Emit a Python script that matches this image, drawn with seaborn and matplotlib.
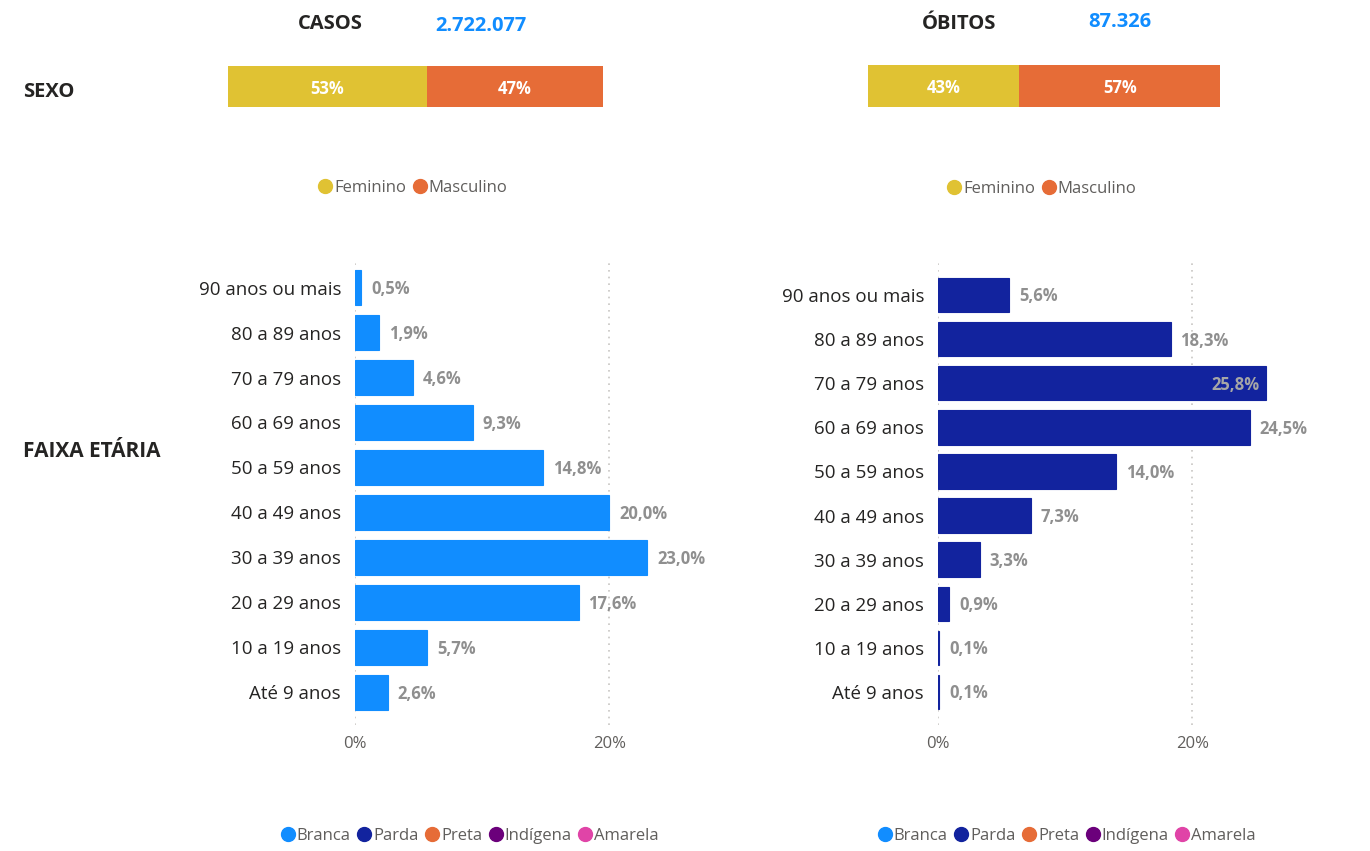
import matplotlib
matplotlib.use("Agg")
import matplotlib.pyplot as plt
from matplotlib.lines import Line2D
import seaborn as sns

# data
faixas = ['90 anos ou mais', '80 a 89 anos', '70 a 79 anos', '60 a 69 anos',
          '50 a 59 anos', '40 a 49 anos', '30 a 39 anos', '20 a 29 anos',
          '10 a 19 anos', 'Até 9 anos']
casos_pct = [0.5, 1.9, 4.6, 9.3, 14.8, 20.0, 23.0, 17.6, 5.7, 2.6]
obitos_pct = [5.6, 18.3, 25.8, 24.5, 14.0, 7.3, 3.3, 0.9, 0.1, 0.1]

sexos = ['Feminino', 'Masculino']
casos_sexo = [53, 47]
obitos_sexo = [43, 57]

total_casos = '2.722.077'
total_obitos = '87.326'

racas = ['Branca', 'Parda', 'Preta', 'Indígena', 'Amarela']
cores_raca = ['#118DFF', '#12239E', '#E66C37', '#6B007B', '#E044A7']
cores_sexo = ['#E0C233', '#E66C37']

sns.set_style("white")
plt.rcParams['font.family'] = ['Open Sans', 'DejaVu Sans']

W, H = 1370, 851
fig = plt.figure(figsize=(W / 100, H / 100), dpi=100)


def box(x0, y0, x1, y1):
    # pixel box (top-left origin) -> figure fraction
    return [x0 / W, 1 - y1 / H, (x1 - x0) / W, (y1 - y0) / H]


def pct(v):
    return f"{v:.1f}".replace('.', ',') + '%'


def sexo_bar(rect, values):
    ax = fig.add_axes(rect)
    left = 0
    for v, c in zip(values, cores_sexo):
        ax.barh([0], [v], left=left, color=c, height=1.0, linewidth=0)
        ax.text(left + v / 2, 0, f"{v}%", ha='center', va='center_baseline',
                color='white', fontsize=12, fontweight='bold')
        left += v
    ax.set_xlim(0, sum(values))
    ax.set_ylim(-0.5, 0.5)
    ax.axis('off')


def faixa_bar(rect, values, color, ylim):
    ax = fig.add_axes(rect)
    for g in (0, 20):
        ax.axvline(g, color='#C8C6C4', linestyle=(0, (1, 3)), lw=1.2, zorder=0)
    sns.barplot(x=values, y=faixas, orient='h', color=color, width=0.78,
                saturation=1, ax=ax, zorder=2, linewidth=0.8, edgecolor=color)
    ax.set_xlim(0, 28)
    ax.set_ylim(*ylim)
    ax.set_xticks([0, 20])
    ax.set_xticklabels(['0%', '20%'], color='#605E5C', fontsize=12)
    ax.tick_params(axis='y', labelsize=13.5, labelcolor='#252423', length=0, pad=10)
    ax.tick_params(axis='x', length=0, pad=8)
    ax.set_xlabel('')
    ax.set_ylabel('')
    for s in ax.spines.values():
        s.set_visible(False)
    for i, v in enumerate(values):
        if v > 25:
            # doesn't fit to the right, goes inside the bar end
            ax.annotate(pct(v), (v, i), xytext=(-5, -1), textcoords='offset points',
                        ha='right', va='center', color='#A6A6A6',
                        fontsize=12, fontweight='bold')
        else:
            ax.annotate(pct(v), (v, i), xytext=(7, -1), textcoords='offset points',
                        ha='left', va='center', color='#8F8F8F',
                        fontsize=12, fontweight='bold')
    return ax


sexo_bar(box(228, 66, 603, 107), casos_sexo)
sexo_bar(box(868, 65, 1220, 107), obitos_sexo)

faixa_bar(box(355, 262, 711, 725), casos_pct, '#118DFF', (9.73, -0.57))
faixa_bar(box(938, 262, 1294, 725), obitos_pct, '#12239E', (9.75, -0.75))

# headers
def ftext(x, y, s, **kw):
    fig.text(x / W, 1 - y / H, s, va='center', **kw)

ftext(330, 24, 'CASOS', ha='center', fontsize=14.5, fontweight='bold', color='#252423')
ftext(481, 26, total_casos, ha='center', fontsize=14.5, fontweight='bold', color='#118DFF')
ftext(959, 24, 'ÓBITOS', ha='center', fontsize=14.5, fontweight='bold', color='#252423')
ftext(1120, 22, total_obitos, ha='center', fontsize=14.5, fontweight='bold', color='#118DFF')
ftext(23, 92, 'SEXO', ha='left', fontsize=14.5, fontweight='bold', color='#252423')
ftext(23, 452, 'FAIXA ETÁRIA', ha='left', fontsize=15, fontweight='bold', color='#252423')


def legenda(x, y, labels, colors):
    handles = [Line2D([], [], marker='o', linestyle='', markersize=10,
                      markerfacecolor=c, markeredgecolor=c) for c in colors]
    fig.legend(handles, labels, loc='center', bbox_to_anchor=(x / W, 1 - y / H),
               ncol=len(labels), frameon=False, handletextpad=0.15,
               columnspacing=0.4, handlelength=0.8, fontsize=12,
               labelcolor='#605E5C')


legenda(413, 188, sexos, cores_sexo)
legenda(1042, 189, sexos, cores_sexo)
legenda(470, 836, racas, cores_raca)
legenda(1067, 836, racas, cores_raca)

fig.savefig('out.png', dpi=100)
